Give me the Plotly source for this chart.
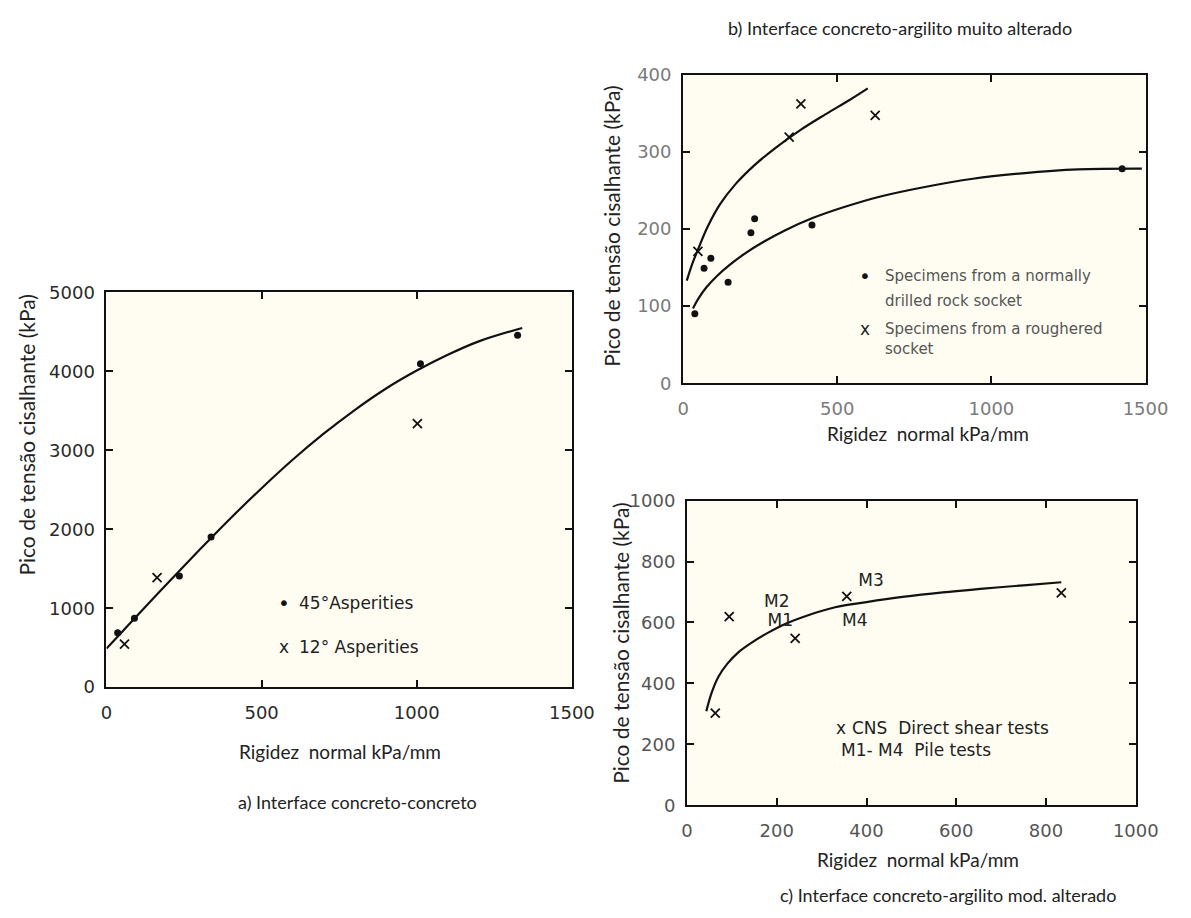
import plotly.graph_objects as go

W, H = 1191, 918

# ---------------- Panel a) concreto-concreto ----------------
a_dot_x = [36, 90, 235, 337, 1012, 1325]
a_dot_y = [690, 874, 1408, 1901, 4097, 4458]
a_x_x = [58, 163, 1002]
a_x_y = [546, 1388, 3337]
a_curve_x = [0, 50, 100, 200, 300, 400, 500, 600, 700, 800, 900, 1000, 1100, 1200, 1340]
a_curve_y = [490, 700, 910, 1330, 1740, 2140, 2520, 2880, 3210, 3510, 3780, 4010, 4210, 4380, 4550]

# ---------------- Panel b) argilito muito alterado ----------------
b_dot_x = [38, 68, 90, 146, 220, 232, 418, 1424]
b_dot_y = [90, 149, 162, 131, 195, 213, 205, 278]
b_x_x = [48, 344, 382, 623]
b_x_y = [171, 319, 362, 347]
b_low_x = [32, 50, 75, 110, 150, 200, 260, 330, 420, 520, 640, 780, 940, 1100, 1280, 1488]
b_low_y = [97, 110, 124, 139, 153, 168, 183, 198, 214, 228, 242, 254, 265, 272, 277, 278]
b_up_x = [12, 30, 50, 80, 120, 170, 230, 300, 380, 460, 540, 599]
b_up_y = [133, 155, 175, 203, 232, 258, 282, 305, 328, 348, 367, 382]

# ---------------- Panel c) argilito mod. alterado ----------------
c_x_x = [63, 94, 241, 356, 834]
c_x_y = [303, 619, 548, 686, 697]
c_curve_x = [43, 55, 70, 90, 115, 145, 180, 220, 270, 330, 400, 480, 570, 660, 750, 834]
c_curve_y = [309, 370, 422, 465, 503, 535, 566, 596, 624, 650, 667, 684, 699, 711, 722, 732]
c_pile_labels = ["M2", "M1", "M3", "M4"]
c_pile_x = [200, 208, 410, 374]
c_pile_y = [665, 601, 734, 601]

ytitle = "Pico de tensão cisalhante (kPa)"
xtitle = "Rigidez\u00a0 normal kPa/mm"

INK = "#111111"
fig = go.Figure()

def dots(x, y, xa, ya):
    fig.add_trace(go.Scatter(x=x, y=y, mode="markers", xaxis=xa, yaxis=ya,
                             marker=dict(symbol="circle", size=7, color=INK),
                             showlegend=False, hoverinfo="skip"))

def crosses(x, y, xa, ya):
    fig.add_trace(go.Scatter(x=x, y=y, mode="markers", xaxis=xa, yaxis=ya,
                             marker=dict(symbol="x-thin", size=9,
                                         line=dict(width=1.8, color=INK)),
                             showlegend=False, hoverinfo="skip"))

def curve(x, y, xa, ya):
    fig.add_trace(go.Scatter(x=x, y=y, mode="lines", xaxis=xa, yaxis=ya,
                             line=dict(color=INK, width=2.2, shape="spline", smoothing=1.0),
                             showlegend=False, hoverinfo="skip"))

curve(a_curve_x, a_curve_y, "x", "y")
dots(a_dot_x, a_dot_y, "x", "y")
crosses(a_x_x, a_x_y, "x", "y")

curve(b_low_x, b_low_y, "x2", "y2")
curve(b_up_x, b_up_y, "x2", "y2")
dots(b_dot_x, b_dot_y, "x2", "y2")
crosses(b_x_x, b_x_y, "x2", "y2")

curve(c_curve_x, c_curve_y, "x3", "y3")
crosses(c_x_x, c_x_y, "x3", "y3")
fig.add_trace(go.Scatter(x=c_pile_x, y=c_pile_y, mode="text", text=c_pile_labels,
                         xaxis="x3", yaxis="y3", textposition="middle center",
                         textfont=dict(family="DejaVu Sans", size=17, color="#222"),
                         showlegend=False, hoverinfo="skip"))

def px_x(p):
    return p / W

def px_y(p):
    return 1 - p / H

tickfont_a = dict(family="DejaVu Sans", size=18, color="#2a2a2a")
tickfont_b = dict(family="DejaVu Sans", size=18, color="#7a7a7a")
tickfont_c = dict(family="DejaVu Sans", size=18, color="#555")

def axis(domain, rng, dtick, tf, anchor, standoff):
    return dict(domain=domain, range=rng, dtick=dtick, tick0=0, showgrid=False,
                zeroline=False, showline=True, linewidth=2, linecolor=INK,
                mirror="ticks", ticks="inside", ticklen=7, tickwidth=1.5,
                tickcolor=INK, tickfont=tf, anchor=anchor,
                ticklabelstandoff=standoff)

fig.update_layout(
    width=W, height=H,
    margin=dict(l=0, r=0, t=0, b=0),
    paper_bgcolor="white",
    plot_bgcolor="#fffdf2",
    xaxis=axis([px_x(103), px_x(580)], [0, 1500], 500, tickfont_a, "y", 8),
    yaxis=axis([px_y(692), px_y(288)], [0, 5000], 1000, tickfont_a, "x", 6),
    xaxis2=axis([px_x(694), px_x(1168)], [0, 1500], 500, tickfont_b, "y2", 8),
    yaxis2=axis([px_y(381), px_y(65)], [0, 400], 100, tickfont_b, "x2", 6),
    xaxis3=axis([px_x(698), px_x(1158)], [0, 1000], 200, tickfont_c, "y3", 8),
    yaxis3=axis([px_y(813), px_y(501)], [0, 1000], 200, tickfont_c, "x3", 6),
)

YF = dict(family="Lato", size=21, color="#222")
XF = dict(family="Lato", size=19, color="#222")
CF = dict(family="Lato", size=18, color="#222")
LF = dict(family="DejaVu Sans", size=17, color="#222")
LFB = dict(family="DejaVu Sans", size=15, color="#555")
DOT = dict(family="DejaVu Sans", size=20, color="#111")

ann = []
def paper_text(text, x, y, font, angle=0, xanchor="center"):
    ann.append(dict(text=text, x=px_x(x), y=px_y(y), xref="paper", yref="paper",
                    showarrow=False, textangle=angle, xanchor=xanchor,
                    yanchor="middle", font=font))

def data_text(text, x, y, xr, yr, font=LF, xanchor="left"):
    ann.append(dict(text=text, x=x, y=y, xref=xr, yref=yr, showarrow=False,
                    xanchor=xanchor, yanchor="middle", font=font))

# axis titles & panel captions
paper_text(ytitle, 21, 434, YF, -90)
paper_text(ytitle, 621, 220, YF, -90)
paper_text(ytitle, 630, 647, YF, -90)
paper_text(xtitle, 342, 758, XF)
paper_text(xtitle, 945, 432, XF)
paper_text(xtitle, 935, 868, XF)
paper_text("a) Interface concreto-concreto", 360, 810, CF)
paper_text("b) Interface concreto-argilito muito alterado", 916, 17, CF)
paper_text("c) Interface concreto-argilito mod. alterado", 965, 905, CF)

# in-plot legends
data_text("•", 572, 1067, "x", "y", font=DOT, xanchor="center")
data_text("45°Asperities", 614, 1067, "x", "y")
data_text("x", 572, 505, "x", "y", xanchor="center")
data_text("12° Asperities", 614, 505, "x", "y")

data_text("•", 589, 139, "x2", "y2", font=DOT, xanchor="center")
data_text("Specimens from a normally", 649, 139, "x2", "y2", font=LFB)
data_text("drilled rock socket", 649, 107, "x2", "y2", font=LFB)
data_text("x", 589, 70, "x2", "y2", xanchor="center")
data_text("Specimens from a roughered", 649, 70, "x2", "y2", font=LFB)
data_text("socket", 649, 44, "x2", "y2", font=LFB)

data_text("x", 344, 255, "x3", "y3", xanchor="center")
data_text("CNS  Direct shear tests", 363, 255, "x3", "y3")
data_text("M1- M4  Pile tests", 338, 181, "x3", "y3")

fig.update_layout(annotations=ann)

fig.write_html("out.html")
